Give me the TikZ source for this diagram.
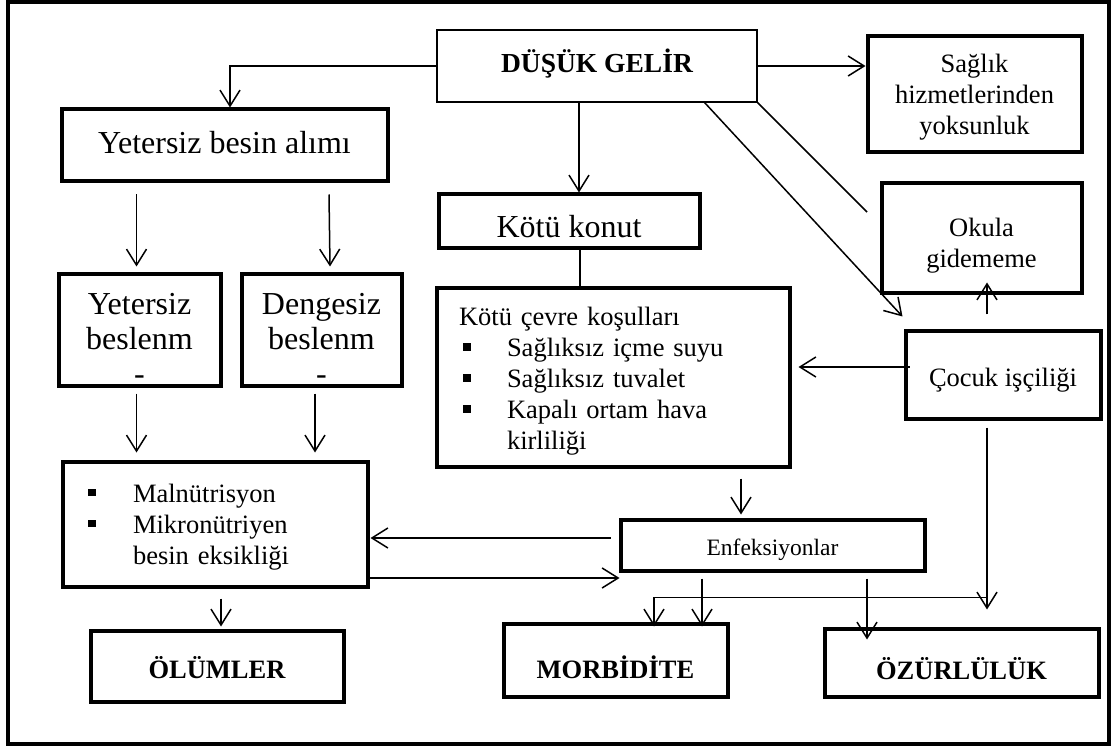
\documentclass[tikz,border=0pt]{standalone}
\usepackage{fontspec}
\setmainfont{Liberation Serif}
\usetikzlibrary{arrows.meta,calc}
\newcommand{\bulA}{\makebox[48pt][l]{\hspace*{4pt}\rule[6pt]{7.5pt}{7.5pt}}}
\newcommand{\bulB}{\makebox[45pt][l]{\rule[6pt]{7.5pt}{7.5pt}}}
\newcommand{\lowr}[2]{\raisebox{-#1}[\height][\depth]{#2}}
\begin{document}
\begin{tikzpicture}[x=1pt,y=-1pt,
  box/.style={draw, fill=white, line width=4pt, rectangle, inner sep=0pt, align=center,
    font=\fontsize{26.5}{31}\selectfont},
  thinbox/.style={draw, fill=white, line width=1.4pt, rectangle, inner sep=0pt, align=center,
    font=\fontsize{27.5}{31}\selectfont\bfseries},
  big/.style={font=\fontsize{32}{35}\selectfont},
  boldtxt/.style={font=\fontsize{26.5}{31}\selectfont\bfseries},
  arr/.style={line width=1.5pt, -{Straight Barb[length=16pt,width=20pt,line width=1.5pt]}},
  ln/.style={line width=1.5pt}]
\useasboundingbox (0,0) rectangle (1112,746);
\draw[line width=4pt] (8,2) rectangle (1109,744);

% nodes
\node[thinbox, minimum width=320pt, minimum height=72pt] (dusuk) at (597,66) {\lowr{-2pt}{DÜŞÜK GELİR}};
\node[box, minimum width=214pt, minimum height=116pt] (saglik) at (974.5,94.5) {\rule{0pt}{24.5pt}Sağlık\\hizmetlerinden\\yoksunluk};
\node[box, big, minimum width=326pt, minimum height=72pt] (yb) at (224.5,145.5) {\lowr{-3pt}{Yetersiz besin alımı}};
\node[box, big, minimum width=261pt, minimum height=54pt] (konut) at (569,221.5) {\lowr{5pt}{Kötü konut}};
\node[box, minimum width=200pt, minimum height=110pt] (okula) at (981.5,238.5) {\rule{0pt}{32pt}Okula\\gidememe};
\node[box, big, minimum width=162pt, minimum height=111pt] (ybes) at (139.5,330) {\rule{0pt}{38pt}Yetersiz\\beslenm\\-};
\node[box, big, minimum width=160pt, minimum height=111pt] (dbes) at (321.5,330) {\rule{0pt}{38pt}Dengesiz\\beslenm\\-};
\node[box, minimum width=353pt, minimum height=178pt, text width=308pt, align=left, inner xsep=22.5pt] (cevre) at (613,377.5)
  {\rule{0pt}{26pt}Kötü çevre koşulları\\
   \bulA Sağlıksız içme suyu\\
   \bulA Sağlıksız tuvalet\\
   \bulA Kapalı ortam hava\\
   \hspace*{48pt}kirliliği};
\node[box, minimum width=195pt, minimum height=87pt] (cocuk) at (1003,375) {\lowr{5pt}{Çocuk işçiliği}};
\node[box, minimum width=305pt, minimum height=125pt, text width=254pt, align=left, inner xsep=25.5pt] (maln) at (215,524)
  {\rule{0pt}{24pt}\bulB Malnütrisyon\\
   \bulB Mikronütriyen\\
   \hspace*{45pt}besin eksikliği};
\node[box, font=\fontsize{23.5}{28}\selectfont, minimum width=304pt, minimum height=51pt] (enf) at (772.5,545) {\lowr{5pt}{Enfeksiyonlar}};
\node[box, boldtxt, minimum width=253pt, minimum height=71pt] (olum) at (217,666) {\lowr{2pt}{ÖLÜMLER}};
\node[box, boldtxt, minimum width=224pt, minimum height=73pt] (morb) at (615.5,660) {\lowr{7pt}{MORBİDİTE}};
\node[box, boldtxt, minimum width=274pt, minimum height=68pt] (ozur) at (961.5,662.5) {\lowr{6pt}{ÖZÜRLÜLÜK}};

\coordinate (d1) at (867,212);

% connectors
\draw[arr] (dusuk.west) -| ($(yb.north)+(5.5,0)$);
\draw[arr] (dusuk.east) -- (dusuk.east -| saglik.west);
\draw[arr] ($(dusuk.south)+(-18,0)$) -- ($(konut.north)+(10,0)$);
\draw[ln] (dusuk.south east) -- (d1);
\draw[arr] ($(dusuk.south east)+(-53,0)$) -- ($(cocuk.north west)+(-1,-13)$);
\draw[arr] ($(yb.south -| ybes.north)+(-3,11)$) -- ($(ybes.north)+(-3,-6)$);
\draw[arr] ($(yb.south -| dbes.north)+(7.5,11)$) -- ($(dbes.north)+(8.5,-6)$);
\draw[arr] ($(ybes.south)+(-3,6)$) -- ($(maln.north -| ybes.south)+(-3,-7)$);
\draw[arr] ($(dbes.south)+(-6.5,6)$) -- ($(maln.north -| dbes.south)+(-6.5,-7)$);
\draw[ln] ($(konut.south)+(11,0)$) -- ($(cevre.north -| konut.south)+(11,0)$);
\draw[arr] ($(cocuk.west)+(6,-8)$) -- ($(cevre.east |- cocuk.west)+(7,-8)$);
\draw[arr] ($(cocuk.north)+(-16,-15)$) -- ($(cocuk.north |- okula.south)+(-16,-13)$);
\draw[arr] ($(cevre.south)+(128,10)$) -- ($(enf.north -| cevre.south)+(128,-3)$);
\draw[arr] ($(enf.west)+(-8,-7)$) -- ($(maln.east |- enf.west)+(1,-7)$);
\draw[arr] ($(maln.east)+(0,54)$) -- ($(enf.west |- maln.east)+(1,54)$);
\draw[arr] ($(maln.south)+(6,10)$) -- ($(olum.north -| maln.south)+(6,-2)$);
\draw[arr] ($(enf.south)+(-70.5,6)$) -- ($(morb.north -| enf.south)+(-70.5,5)$);
\draw[arr] ($(enf.south)+(94.5,6)$) -- ($(ozur.north -| enf.south)+(94.5,13)$);
\draw[arr] ($(cocuk.south)+(-16,7)$) -- ($(ozur.north -| cocuk.south)+(-16,-17)$);
\draw[arr] ($(ozur.north -| cocuk.south)+(-16,-29)$) -| ($(morb.north)+(38.5,5)$);
\end{tikzpicture}
\end{document}
